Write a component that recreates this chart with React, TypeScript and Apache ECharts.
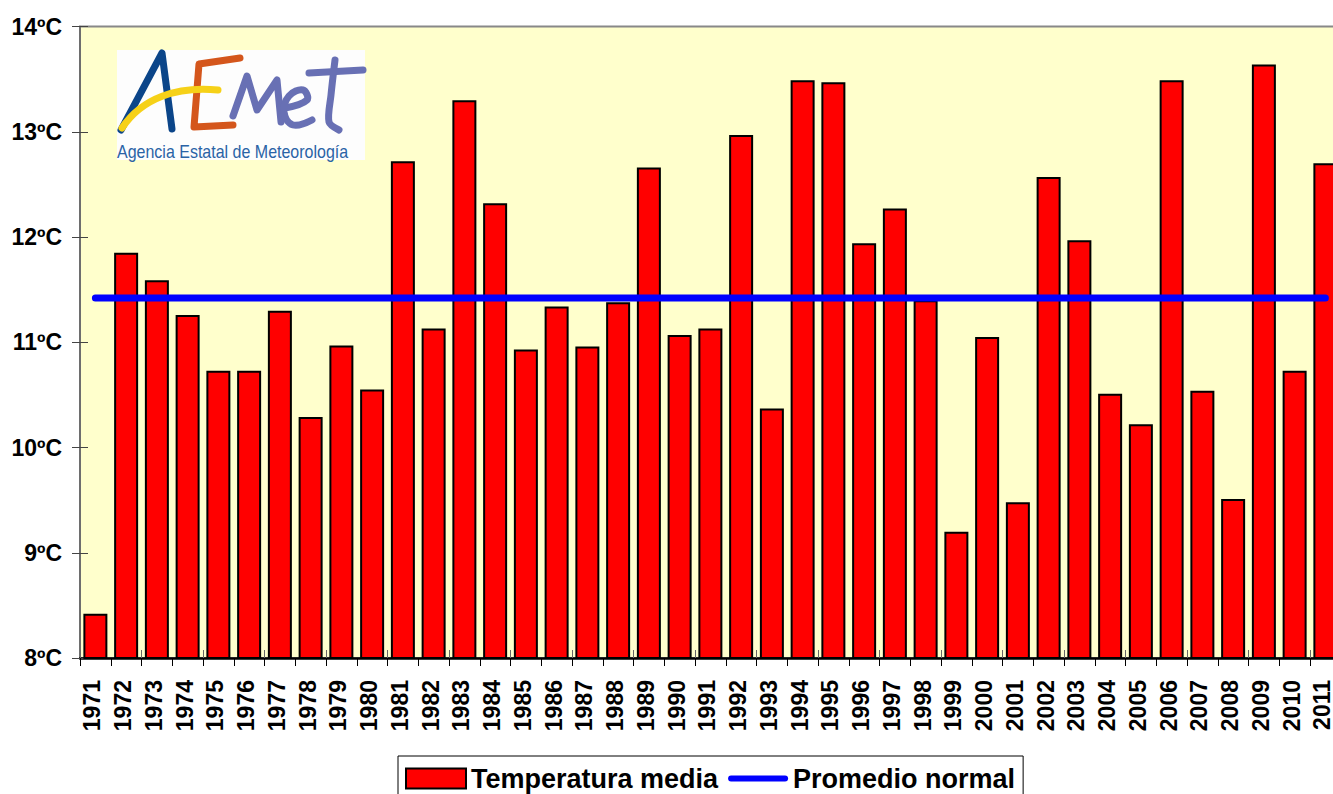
import React, { useEffect, useRef } from "react";
import * as echarts from "echarts";

const years = [
  "1971", "1972", "1973", "1974", "1975", "1976", "1977", "1978", "1979", "1980",
  "1981", "1982", "1983", "1984", "1985", "1986", "1987", "1988", "1989", "1990",
  "1991", "1992", "1993", "1994", "1995", "1996", "1997", "1998", "1999", "2000",
  "2001", "2002", "2003", "2004", "2005", "2006", "2007", "2008", "2009", "2010", "2011",
];

const temperaturaMedia = [
  8.42, 11.85, 11.59, 11.26, 10.73, 10.73, 11.3, 10.29, 10.97, 10.55,
  12.72, 11.13, 13.3, 12.32, 10.93, 11.34, 10.96, 11.38, 12.66, 11.07,
  11.13, 12.97, 10.37, 13.49, 13.47, 11.94, 12.27, 11.4, 9.2, 11.05,
  9.48, 12.57, 11.97, 10.51, 10.22, 13.49, 10.54, 9.51, 13.64, 10.73, 12.7,
];

const promedioNormalValue = 11.42;
const promedioNormal = years.map(() => promedioNormalValue);

const yMin = 8;
const yMax = 14;
const yStep = 1;
const yUnit = "ºC";

const seriesNames = ["Temperatura media", "Promedio normal"];

const FONT = "'Liberation Sans', Arial, sans-serif";

export default function App() {
  const ref = useRef<HTMLDivElement>(null);

  useEffect(() => {
    document.body.style.margin = "0";
    document.body.style.overflow = "hidden";
    const chart = echarts.init(ref.current!, null, { renderer: "svg" });

    const blueA = "#0B4589";
    const yellow = "#F6D118";
    const orange = "#D4561C";
    const purple = "#6870B4";

    const option: any = {
      animation: false,
      backgroundColor: "#ffffff",
      grid: {
        left: 80,
        top: 26.5,
        width: 41 * 30.75,
        height: 631.5,
        show: true,
        backgroundColor: "#FFFFCC",
        borderColor: "#888888",
        borderWidth: 2,
      },
      xAxis: [
        {
          type: "category",
          data: years,
          position: "bottom",
          axisLine: { show: true, lineStyle: { color: "#000", width: 2.5 } },
          axisTick: { show: true, inside: false, length: 8, lineStyle: { color: "#000", width: 1 } },
          axisLabel: {
            rotate: 90,
            margin: 22,
            fontFamily: FONT,
            fontWeight: "bold",
            fontSize: 23,
            lineHeight: 6,
            verticalAlign: "bottom",
            color: "#000",
            interval: 0,
          },
          splitLine: { show: false },
        },
        {
          type: "category",
          data: years,
          position: "bottom",
          axisLine: { show: false },
          axisTick: { show: true, inside: true, length: 8, lineStyle: { color: "#666", width: 1 } },
          axisLabel: { show: false },
          splitLine: { show: false },
        },
      ],
      yAxis: [
        {
          type: "value",
          min: yMin,
          max: yMax,
          interval: yStep,
          axisLine: { show: true, lineStyle: { color: "#666", width: 1.5 } },
          axisTick: { show: true, inside: false, length: 8, lineStyle: { color: "#444", width: 1 } },
          axisLabel: {
            margin: 18,
            formatter: (v: number) => `${v}${yUnit}`,
            fontFamily: FONT,
            fontWeight: "bold",
            fontSize: 23,
            color: "#000",
          },
          splitLine: { show: false },
        },
        {
          type: "value",
          min: yMin,
          max: yMax,
          interval: yStep,
          position: "left",
          axisLine: { show: false },
          axisTick: { show: true, inside: true, length: 8, lineStyle: { color: "#444", width: 1 } },
          axisLabel: { show: false },
          splitLine: { show: false },
        },
      ],
      legend: {
        left: 398,
        top: 756,
        orient: "horizontal",
        itemWidth: 60,
        itemHeight: 20,
        itemGap: 10,
        padding: [9, 8, 12, 7],
        borderColor: "#000",
        borderWidth: 1,
        backgroundColor: "#fff",
        textStyle: { fontFamily: FONT, fontSize: 27, fontWeight: "bold", color: "#000" },
        data: [
          { name: seriesNames[0], icon: "rect" },
          {
            name: seriesNames[1],
            icon: "path://M3,0 L57,0 A3,3 0 0 1 57,6 L3,6 A3,3 0 0 1 3,0 Z",
            itemStyle: { color: "#0000FF", borderWidth: 0 },
          },
        ],
      },
      series: [
        {
          name: seriesNames[0],
          type: "bar",
          data: temperaturaMedia,
          barWidth: 24,
          itemStyle: { color: "#FF0000", borderColor: "#000", borderWidth: 2 },
          z: 2,
        },
        {
          name: seriesNames[1],
          type: "line",
          data: promedioNormal,
          symbol: "none",
          lineStyle: { color: "#0000FF", width: 7, cap: "round" },
          itemStyle: { color: "#0000FF" },
          z: 5,
        },
      ],
      graphic: [
        {
          type: "group",
          x: 117,
          y: 50,
          z: 10,
          children: [
            { type: "rect", shape: { x: 0, y: 0, width: 248, height: 110 }, style: { fill: "#FDFDFD" } },
            {
              type: "polyline",
              shape: { points: [[4, 80], [45, 3], [55, 79]] },
              style: { stroke: blueA, lineWidth: 7, fill: null, lineCap: "round", lineJoin: "round" },
            },
            {
              type: "polyline",
              shape: { points: [[123, 8], [82, 14], [77, 77], [116, 75]] },
              style: { stroke: orange, lineWidth: 7, fill: null, lineCap: "round", lineJoin: "round" },
            },
            {
              type: "bezierCurve",
              shape: { x1: 5, y1: 78, cpx1: 25, cpy1: 48, cpx2: 60, cpy2: 36, x2: 101, y2: 40 },
              style: { stroke: yellow, lineWidth: 7, fill: null, lineCap: "round" },
            },
            {
              type: "polyline",
              shape: { points: [[116, 66], [130, 26], [140, 60], [160, 30], [164, 72]] },
              style: { stroke: purple, lineWidth: 7, fill: null, lineCap: "round", lineJoin: "round" },
            },
            {
              type: "polyline",
              shape: { points: [[168, 58], [190, 50], [186, 40], [172, 46], [167, 62], [176, 75], [195, 70]], smooth: 0.4 },
              style: { stroke: purple, lineWidth: 7, fill: null, lineCap: "round", lineJoin: "round" },
            },
            {
              type: "polyline",
              shape: { points: [[218, 10], [214, 45], [212, 72], [222, 80]], smooth: 0.3 },
              style: { stroke: purple, lineWidth: 7, fill: null, lineCap: "round", lineJoin: "round" },
            },
            {
              type: "line",
              shape: { x1: 192, y1: 23, x2: 246, y2: 20 },
              style: { stroke: purple, lineWidth: 7, lineCap: "round" },
            },
            {
              type: "text",
              x: 0,
              y: 92,
              scaleY: 1.15,
              style: {
                text: "Agencia Estatal de Meteorología",
                fontFamily: FONT,
                fontSize: 16,
                fill: "#2A63A6",
                textVerticalAlign: "top",
              },
            },
          ],
        },
      ],
    };

    chart.setOption(option);
    return () => chart.dispose();
  }, []);

  return (
    <div
      ref={ref}
      style={{ position: "fixed", left: 0, top: 0, width: 1345, height: 794 }}
    />
  );
}
